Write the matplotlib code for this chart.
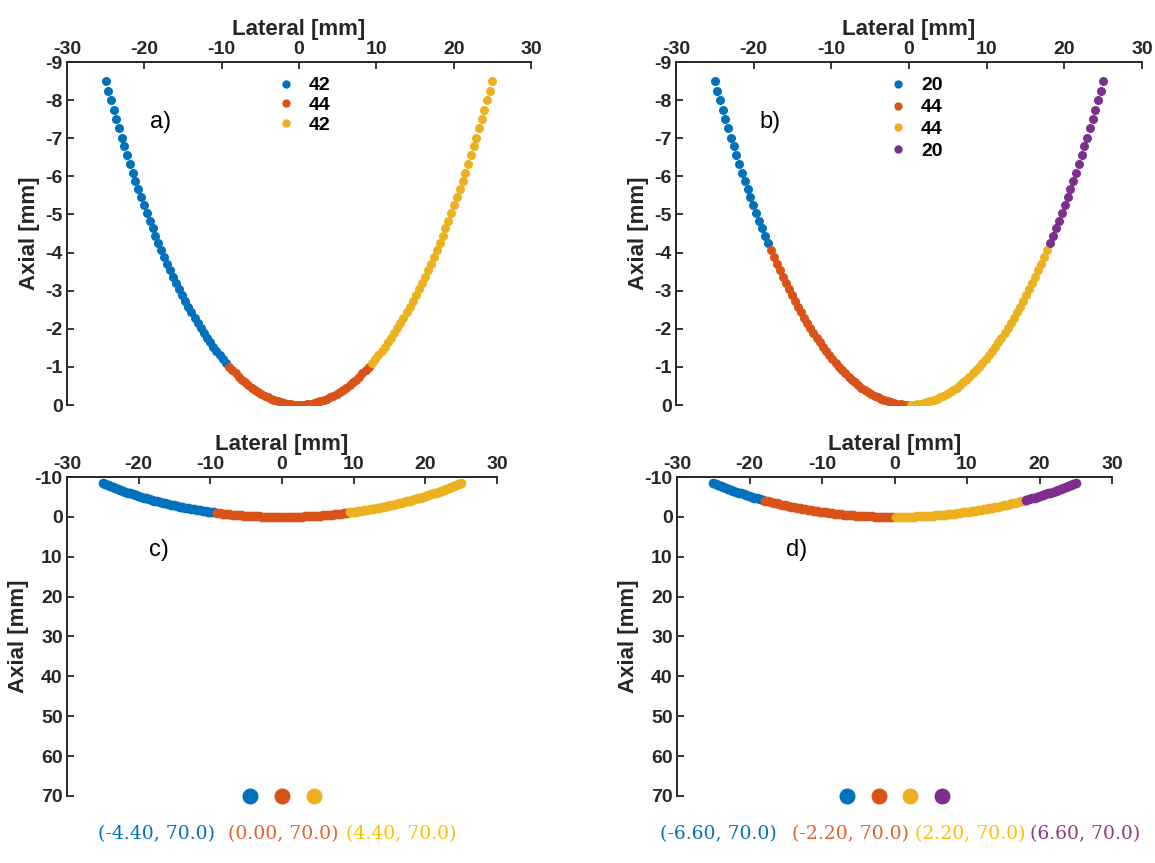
import numpy as np
import matplotlib
matplotlib.use("Agg")
import matplotlib.pyplot as plt
from matplotlib.lines import Line2D

plt.rcParams['font.family'] = ['Liberation Sans', 'DejaVu Sans']
plt.rcParams['axes.unicode_minus'] = False

# ---- data ----
n_elements = 128
radius_mm = 41.0          # curvature radius of the array (sag 8.5 mm at +/-25 mm)
half_aperture_mm = 25.0
groups_a = [42, 44, 42]
groups_b = [20, 44, 44, 20]
focus_c_x = [-4.40, 0.00, 4.40]
focus_d_x = [-6.60, -2.20, 2.20, 6.60]
focus_z = 70.0
top_xticks = [-30, -20, -10, 0, 10, 20, 30]
top_yticks = [-9, -8, -7, -6, -5, -4, -3, -2, -1, 0]
bot_yticks = [-10, 0, 10, 20, 30, 40, 50, 60, 70]

colors = ['#0072BD', '#D95319', '#EDB120', '#7E2F8E']
text_colors = ['#0070C0', '#E2622C', '#FFC000', '#8E3A80']

# element geometry
half_angle = np.arcsin(half_aperture_mm / radius_mm)
theta = np.linspace(-half_angle, half_angle, n_elements)
elem_x = radius_mm * np.sin(theta)
elem_z = -radius_mm * (1 - np.cos(theta))

W, H = 1155, 863
fig = plt.figure(figsize=(W / 100, H / 100), dpi=100)


def ax_px(l, r, t, b):
    return fig.add_axes([l / W, 1 - b / H, (r - l) / W, (b - t) / H])


def style(ax, yticks, ylim):
    ax.xaxis.tick_top()
    ax.xaxis.set_label_position('top')
    ax.set_xlim(-30, 30)
    ax.set_xticks(top_xticks)
    ax.set_ylim(*ylim)
    ax.set_yticks(yticks)
    for s in ['right', 'bottom']:
        ax.spines[s].set_visible(False)
    for s in ['top', 'left']:
        ax.spines[s].set_linewidth(1.4)
        ax.spines[s].set_color('#262626')
    ax.tick_params(direction='in', length=5, width=1.3, color='#262626',
                   labelsize=14, pad=3)
    for lab in ax.get_xticklabels() + ax.get_yticklabels():
        lab.set_fontweight('bold')
        lab.set_color('#262626')
    ax.set_xlabel('Lateral [mm]', fontsize=16, fontweight='bold', color='#262626', labelpad=4)
    ax.set_ylabel('Axial [mm]', fontsize=16, fontweight='bold', color='#262626', labelpad=4)


def split(groups):
    idx = np.cumsum([0] + groups)
    return [(idx[i], idx[i + 1]) for i in range(len(groups))]


# ---- panel a ----
axa = ax_px(67, 531, 62, 405)
handles = []
for i, (s, e) in enumerate(split(groups_a)):
    axa.plot(elem_x[s:e], elem_z[s:e], 'o', color=colors[i], ms=6.5, mec='none')
    handles.append(Line2D([], [], ls='none', marker='o', color=colors[i], ms=6, mec='none'))
style(axa, top_yticks, (0, -9))
axa.legend(handles, [str(g) for g in groups_a], loc='upper left',
           bbox_to_anchor=(0.425, 0.985), frameon=False, handlelength=1.2,
           handletextpad=0.6, labelspacing=0.1, borderpad=0,
           prop={'weight': 'bold', 'size': 14})
axa.text(0.178, 0.825, 'a)', transform=axa.transAxes, fontsize=17, va='center')

# ---- panel b ----
axb = ax_px(676, 1142, 62, 405)
handles = []
for i, (s, e) in enumerate(split(groups_b)):
    axb.plot(elem_x[s:e], elem_z[s:e], 'o', color=colors[i], ms=6.5, mec='none')
    handles.append(Line2D([], [], ls='none', marker='o', color=colors[i], ms=6, mec='none'))
style(axb, top_yticks, (0, -9))
axb.legend(handles, [str(g) for g in groups_b], loc='upper left',
           bbox_to_anchor=(0.43, 0.985), frameon=False, handlelength=1.2,
           handletextpad=0.6, labelspacing=0.22, borderpad=0,
           prop={'weight': 'bold', 'size': 14})
axb.text(0.178, 0.825, 'b)', transform=axb.transAxes, fontsize=17, va='center')

# ---- panel c ----
axc = ax_px(67, 497, 477, 796)
for i, (s, e) in enumerate(split(groups_a)):
    axc.plot(elem_x[s:e], elem_z[s:e], 'o', color=colors[i], ms=7, mec='none')
for i, fx in enumerate(focus_c_x):
    axc.plot([fx], [focus_z], 'o', color=colors[i], ms=11.5, mec='none', clip_on=False)
style(axc, bot_yticks, (70, -10))
axc.text(0.19, 0.77, 'c)', transform=axc.transAxes, fontsize=17, va='center')

# ---- panel d ----
axd = ax_px(677, 1112, 477, 796)
for i, (s, e) in enumerate(split(groups_b)):
    axd.plot(elem_x[s:e], elem_z[s:e], 'o', color=colors[i], ms=7, mec='none')
for i, fx in enumerate(focus_d_x):
    axd.plot([fx], [focus_z], 'o', color=colors[i], ms=11.5, mec='none', clip_on=False)
style(axd, bot_yticks, (70, -10))
axd.text(0.25, 0.77, 'd)', transform=axd.transAxes, fontsize=17, va='center')

# ---- focus coordinate captions ----
cap_c_px = [157, 283, 401]
cap_d_px = [718, 851, 970, 1085]
for i, fx in enumerate(focus_c_x):
    fig.text(cap_c_px[i] / W, 1 - 834 / H, f'({fx:.2f}, {focus_z:.1f})',
             color=text_colors[i], family='DejaVu Serif', fontsize=13.5,
             ha='center', va='center')
for i, fx in enumerate(focus_d_x):
    fig.text(cap_d_px[i] / W, 1 - 834 / H, f'({fx:.2f}, {focus_z:.1f})',
             color=text_colors[i], family='DejaVu Serif', fontsize=13.5,
             ha='center', va='center')

fig.savefig('out.png', dpi=100, facecolor='white')
